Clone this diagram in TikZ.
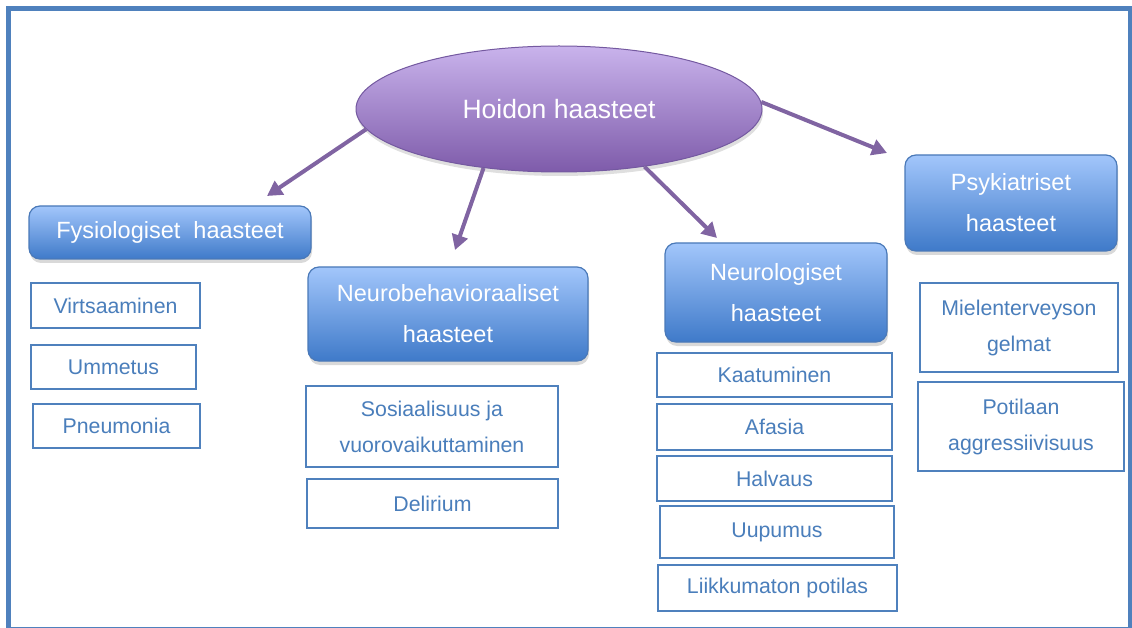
\documentclass[tikz,border=0pt]{standalone}
\usepackage{fontspec}
\setmainfont{Liberation Sans}
\usetikzlibrary{arrows.meta,shadows,shapes.geometric}
\definecolor{frameblue}{HTML}{4F81BD}
\definecolor{txtblue}{HTML}{4A7EBB}
\definecolor{arrowpurple}{HTML}{8064A2}
\definecolor{elltop}{HTML}{C9B3EC}
\definecolor{ellbot}{HTML}{7E5BAA}
\definecolor{ellline}{HTML}{7459A0}
\definecolor{btop}{HTML}{A2C6FB}
\definecolor{bbot}{HTML}{3F7AC9}
\definecolor{bline}{HTML}{4A79B8}
\begin{document}
\begin{tikzpicture}[x=1pt,y=-1pt,
  bluebox/.style={draw=bline, line width=1.2pt, rounded corners=11pt, top color=btop, bottom color=bbot,
    text=white, font=\fontsize{23.5}{41}\selectfont, align=center, inner sep=0pt,
    drop shadow={shadow xshift=1pt, shadow yshift=-4pt, opacity=0.3}},
  wbox/.style={draw=frameblue, line width=1.6pt, fill=white, text=txtblue,
    font=\fontsize{21.3}{36}\selectfont, align=center, inner sep=0pt},
  conn/.style={draw=arrowpurple, line width=4pt, -{Triangle[length=15pt,width=16pt]}}]
\path[use as bounding box] (0,0) rectangle (1132,628);
\draw[frameblue, line width=5pt] (8.5,8.5) rectangle (1130.5,629);

% central ellipse
\node[ellipse, draw=ellline, line width=1pt, top color=elltop, bottom color=ellbot,
  minimum width=406, minimum height=126, inner sep=0pt, text=white,
  font=\fontsize{26.5}{30}\selectfont,
  drop shadow={shadow xshift=1pt, shadow yshift=-4pt, opacity=0.25}] (ell) at (559,109) {Hoidon haasteet};

% category boxes
\node[bluebox, minimum width=282, minimum height=53] (fys) at (170,232.5) {Fysiologiset\ \ haasteet};
\node[bluebox, minimum width=280, minimum height=94] (neb) at (448,314) {Neurobehavioraaliset\\haasteet};
\node[bluebox, minimum width=222, minimum height=99] (neu) at (776,292.5) {Neurologiset\\haasteet};
\node[bluebox, minimum width=212, minimum height=96] (psy) at (1011,203) {Psykiatriset\\haasteet};

% item boxes
\node[wbox, minimum width=169, minimum height=45] (virts) at (115.5,305.5) {Virtsaaminen};
\node[wbox, minimum width=165, minimum height=44] (umm) at (113.5,367) {Ummetus};
\node[wbox, minimum width=167, minimum height=44] (pneu) at (116.5,426) {Pneumonia};

\node[wbox, minimum width=252, minimum height=81] (sos) at (432,426.5) {Sosiaalisuus ja\\vuorovaikuttaminen};
\node[wbox, minimum width=251, minimum height=49] (del) at (432.5,503.5) {Delirium};

\node[wbox, minimum width=235, minimum height=44] (kaa) at (774.5,375) {Kaatuminen};
\node[wbox, minimum width=235, minimum height=46] (afa) at (774.5,427) {Afasia};
\node[wbox, minimum width=235, minimum height=45] (hal) at (774.5,478.5) {Halvaus};
\node[wbox, minimum width=234, minimum height=52] (uup) at (777,532) {Uupumus};
\node[wbox, minimum width=239, minimum height=46] (lii) at (777.5,588) {Liikkumaton potilas};

\node[wbox, minimum width=198, minimum height=89] (mie) at (1019,327.5) {Mielenterveyson\\gelmat};
\node[wbox, minimum width=206, minimum height=89] (pot) at (1021,426.5) {Potilaan\\aggressiivisuus};

% arrows
\coordinate (t1) at (267,196);
\coordinate (t2) at (455,250);
\coordinate (t3) at (717,238);
\coordinate (t4) at (887,153);
\draw[conn] (ell.186.8) -- (t1);
\draw[conn] (ell.218.8) -- (t2);
\draw[conn] (ell.326.2) -- (t3);
\draw[conn] (ell.2) -- (t4);
\end{tikzpicture}
\end{document}
